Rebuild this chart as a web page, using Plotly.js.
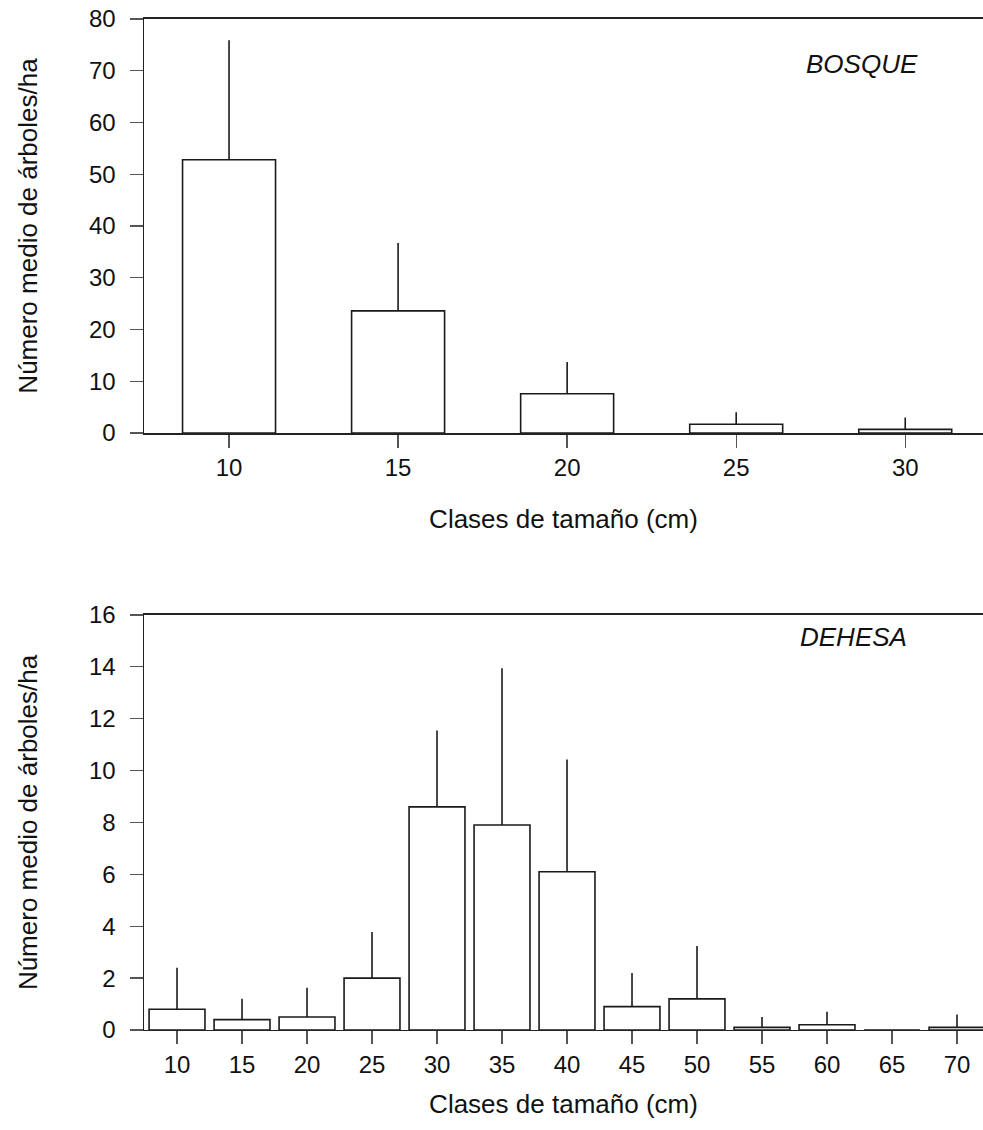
<!DOCTYPE html>
<html>
<head>
<meta charset="utf-8">
<script src="https://cdn.plot.ly/plotly-3.0.1.min.js"></script>
<style>html,body{margin:0;padding:0;background:#fff;}#chart{width:983px;height:1130px;}</style>
</head>
<body>
<div id="chart"></div>
<script>
// BOSQUE (top panel)
const bosqueClasses = ["10", "15", "20", "25", "30"];
const bosqueMedia = [52.8, 23.6, 7.6, 1.7, 0.7];
const bosqueError = [23.1, 13.1, 6.1, 2.3, 2.3];

// DEHESA (bottom panel)
const dehesaClasses = ["10", "15", "20", "25", "30", "35", "40", "45", "50", "55", "60", "65", "70"];
const dehesaMedia = [0.8, 0.4, 0.5, 2.0, 8.6, 7.9, 6.1, 0.9, 1.2, 0.1, 0.2, 0, 0.1];
const dehesaError = [1.6, 0.8, 1.13, 1.78, 2.95, 6.05, 4.33, 1.3, 2.04, 0.4, 0.5, 0, 0.5];

const yTitle = "Número medio de árboles/ha";
const xTitle = "Clases de tamaño (cm)";

const FONT = "Liberation Sans, Arial, Helvetica, sans-serif";
const INK = "#111111";

function barTrace(x, y, err, xa, ya, w) {
  return {
    type: "bar", x: x, y: y, xaxis: xa, yaxis: ya, width: w,
    marker: {color: "#ffffff", line: {color: "#1a1a1a", width: 1.6}},
    error_y: {type: "data", symmetric: false, array: err,
              arrayminus: err.map(() => 0), color: "#1a1a1a", thickness: 1.6, width: 0},
    showlegend: false, hoverinfo: "x+y"
  };
}

const data = [
  barTrace(bosqueClasses, bosqueMedia, bosqueError, "x", "y", 0.55),
  barTrace(dehesaClasses, dehesaMedia, dehesaError, "x2", "y2", 0.86)
];

const xCommon = {
  type: "category", showline: true, mirror: true, linecolor: "#222", linewidth: 1.5,
  ticks: "outside", ticklen: 13, tickwidth: 1.3, tickcolor: "#555",
  showgrid: false, zeroline: false, fixedrange: true,
  tickfont: {family: FONT, size: 24, color: INK}
};
const yCommon = {
  showline: true, linecolor: "#222", linewidth: 1.5,
  ticks: "outside", ticklen: 13, tickwidth: 1.3, tickcolor: "#555",
  showgrid: false, zeroline: false, fixedrange: true, ticklabelstandoff: 9,
  tickfont: {family: FONT, size: 24, color: INK},
  title: {text: yTitle, font: {family: FONT, size: 26, color: INK}, standoff: 44}
};

const layout = {
  width: 983, height: 1130,
  margin: {l: 0, r: 0, t: 0, b: 0},
  paper_bgcolor: "#ffffff", plot_bgcolor: "#ffffff",
  font: {family: FONT, size: 24, color: INK},
  xaxis: Object.assign({}, xCommon, {domain: [0.1465, 1], anchor: "y", range: [-0.503, 4.46],
    title: {text: xTitle, font: {family: FONT, size: 26, color: INK}, standoff: 29}}),
  yaxis: Object.assign({}, yCommon, {domain: [0.6168, 0.9832], anchor: "x", range: [0, 80], dtick: 10, tick0: 0}),
  xaxis2: Object.assign({}, xCommon, {domain: [0.1465, 1], anchor: "y2", range: [-0.508, 12.4],
    title: {text: xTitle, font: {family: FONT, size: 26, color: INK}, standoff: 17}}),
  yaxis2: Object.assign({}, yCommon, {domain: [0.0885, 0.4558], anchor: "x2", range: [0, 16], dtick: 2, tick0: 0}),
  annotations: [
    {text: "<i>BOSQUE</i>", xref: "paper", yref: "paper", x: 862 / 983, y: 1 - 64 / 1130,
     xanchor: "center", yanchor: "middle", showarrow: false, font: {family: FONT, size: 26, color: INK}},
    {text: "<i>DEHESA</i>", xref: "paper", yref: "paper", x: 853 / 983, y: 1 - 637 / 1130,
     xanchor: "center", yanchor: "middle", showarrow: false, font: {family: FONT, size: 26, color: INK}}
  ]
};

Plotly.newPlot("chart", data, layout, {displayModeBar: false, staticPlot: true});
</script>
</body>
</html>
